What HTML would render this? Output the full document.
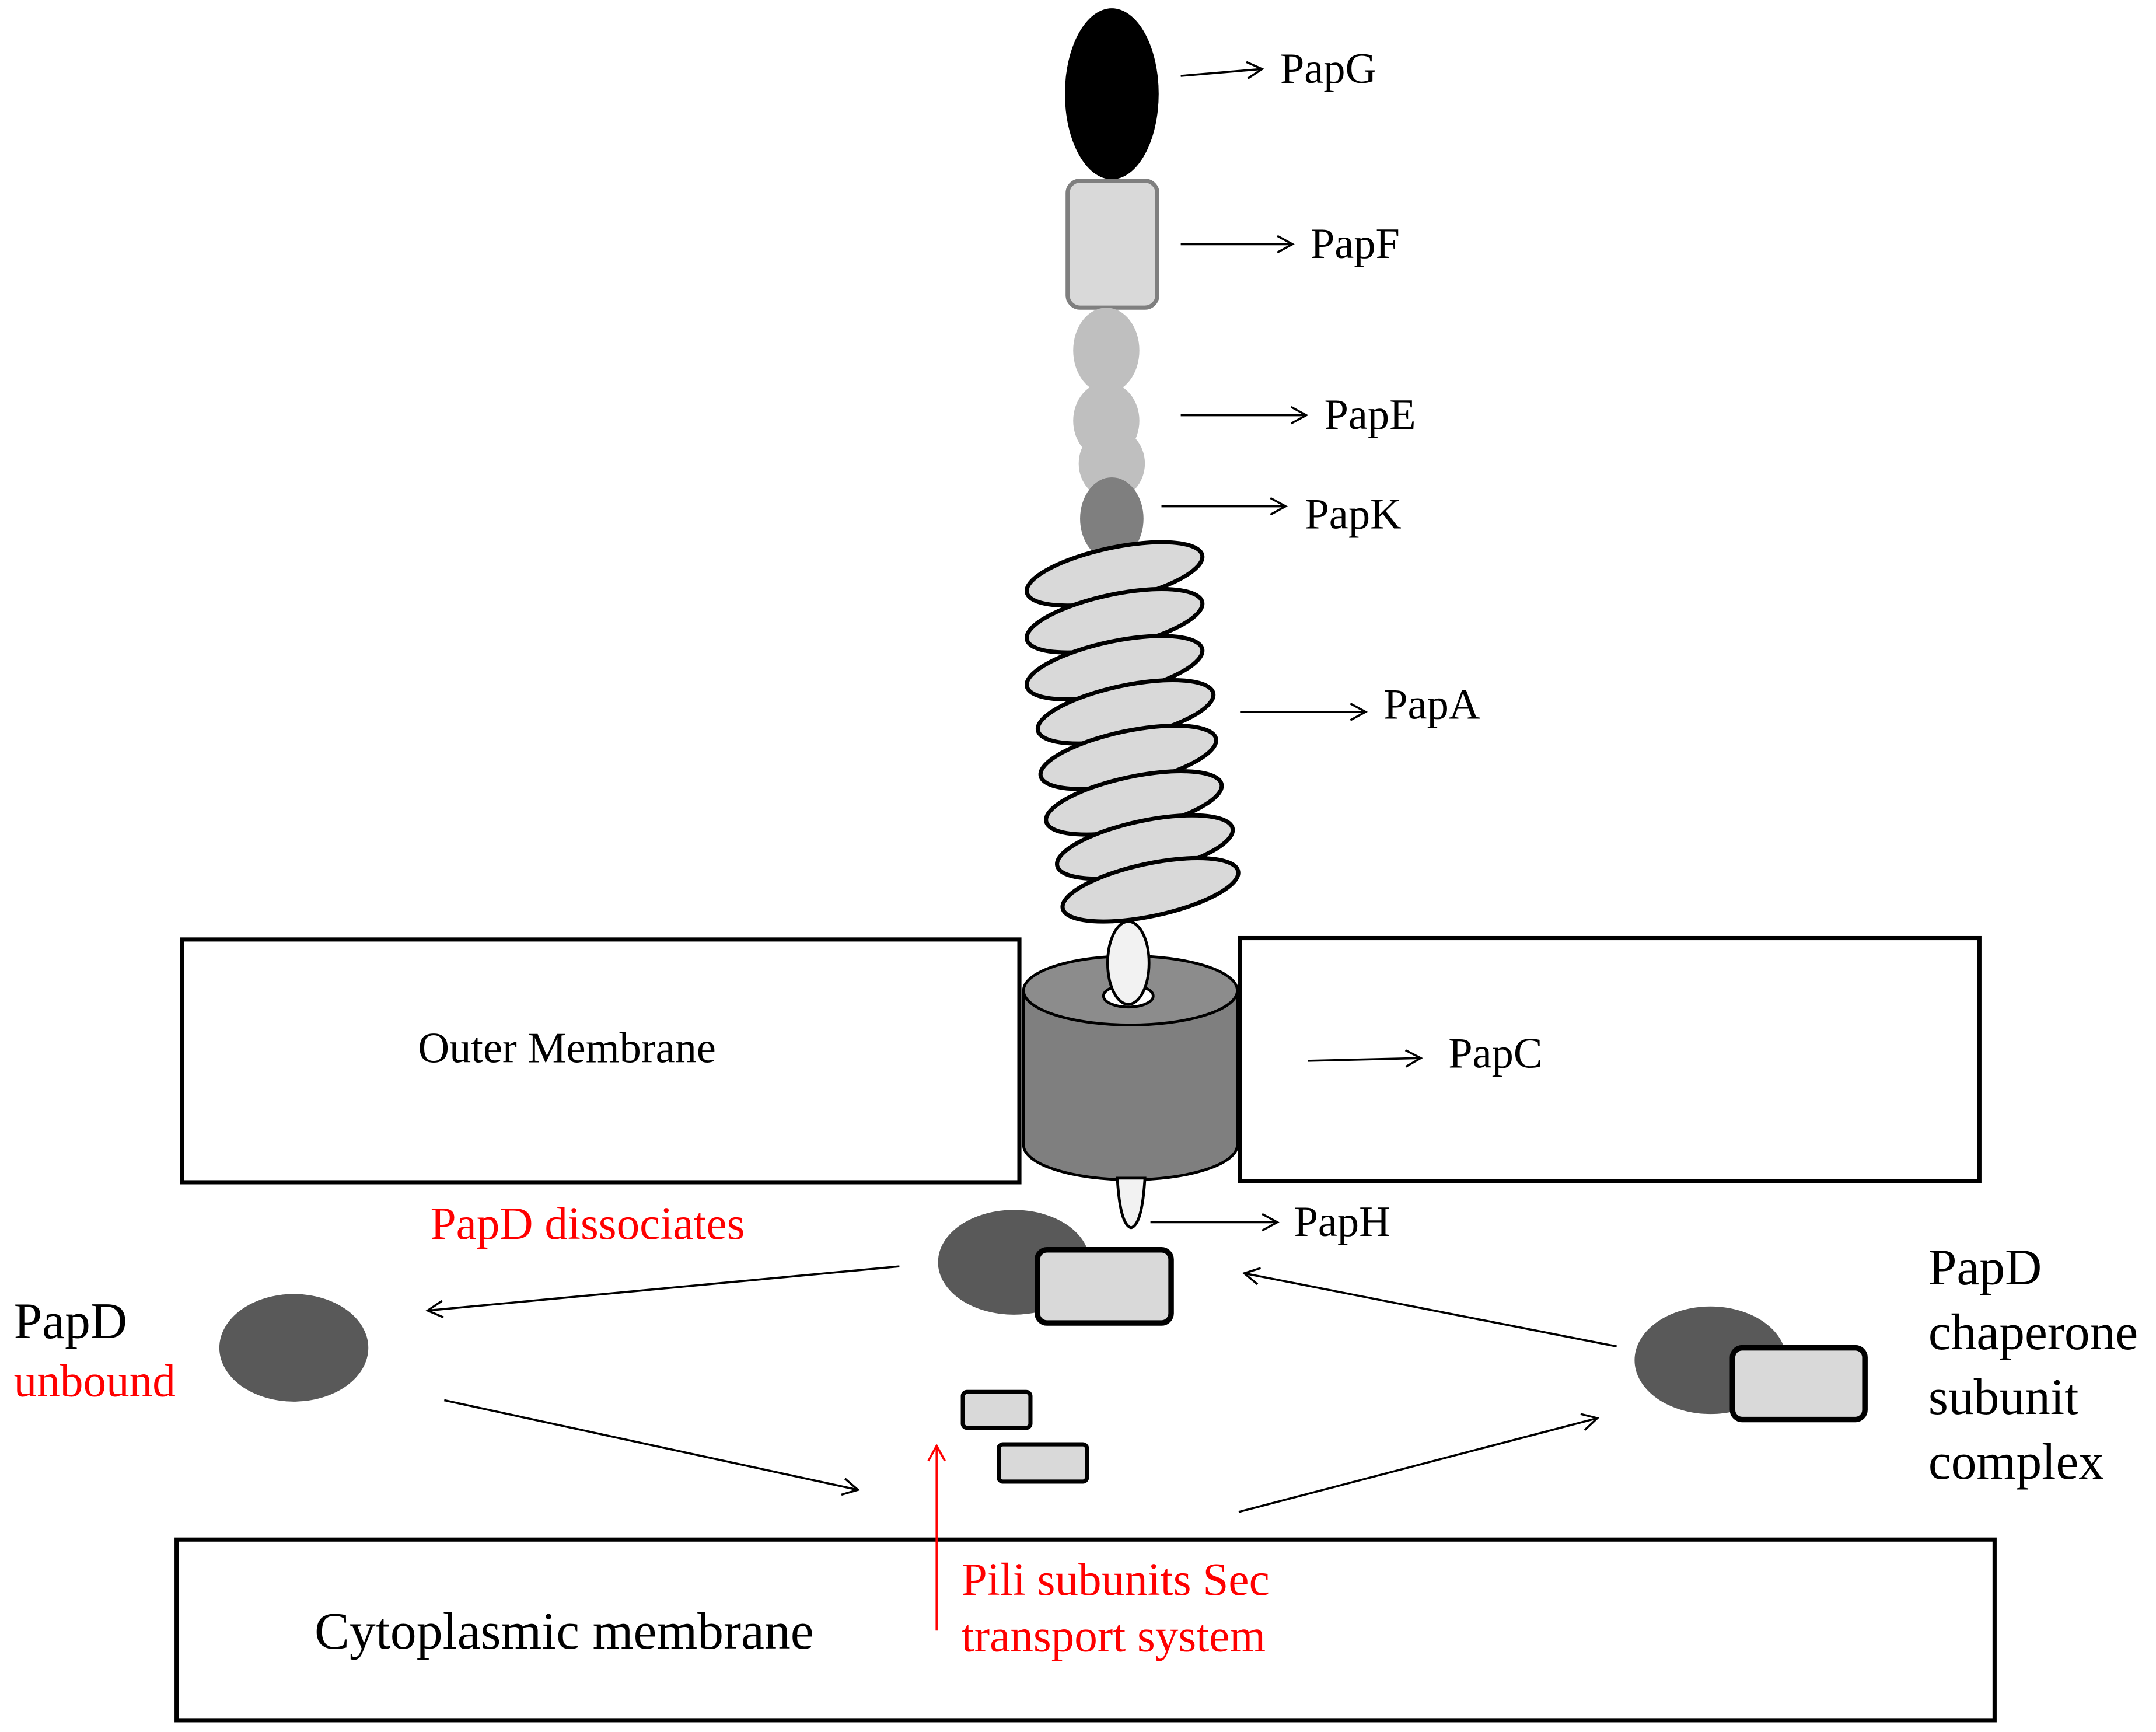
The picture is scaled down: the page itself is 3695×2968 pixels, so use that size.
<!DOCTYPE html>
<html><head><meta charset="utf-8"><style>html,body{margin:0;padding:0;background:#fff}svg{display:block}</style></head>
<body>
<svg width="3695" height="2968" viewBox="0 0 1563 1255.5" xmlns="http://www.w3.org/2000/svg" font-family="Liberation Serif, serif">
<defs>
<marker id="a" markerWidth="14" markerHeight="14" refX="12" refY="7" orient="auto" markerUnits="userSpaceOnUse">
<path d="M1,1 L12,7 L1,13" fill="none" stroke="#000" stroke-width="1.5"/></marker>
<marker id="r" markerWidth="14" markerHeight="14" refX="12" refY="7" orient="auto" markerUnits="userSpaceOnUse">
<path d="M1,1 L12,7 L1,13" fill="none" stroke="#f00" stroke-width="1.5"/></marker>
</defs>
<rect width="1563" height="1256" fill="#fff"/>
<ellipse cx="806" cy="68" rx="34" ry="62" fill="#000"/>
<rect x="774" y="131" width="65" height="92" rx="9" fill="#d9d9d9" stroke="#7f7f7f" stroke-width="3"/>
<ellipse cx="802" cy="254" rx="24" ry="31" fill="#bfbfbf"/>
<ellipse cx="806" cy="336" rx="24" ry="26" fill="#bfbfbf"/>
<ellipse cx="802" cy="305" rx="24" ry="28" fill="#bfbfbf"/>
<ellipse cx="806" cy="376" rx="23" ry="30" fill="#7f7f7f"/>
<g fill="#d9d9d9" stroke="#000" stroke-width="3">
<ellipse cx="808" cy="416" rx="65" ry="19" transform="rotate(-12 808 416)"/>
<ellipse cx="808" cy="450" rx="65" ry="19" transform="rotate(-12 808 450)"/>
<ellipse cx="808" cy="484" rx="65" ry="19" transform="rotate(-12 808 484)"/>
<ellipse cx="816" cy="516" rx="65" ry="19" transform="rotate(-12 816 516)"/>
<ellipse cx="818" cy="549" rx="65" ry="19" transform="rotate(-12 818 549)"/>
<ellipse cx="822" cy="582" rx="65" ry="19" transform="rotate(-12 822 582)"/>
<ellipse cx="830" cy="614" rx="65" ry="19" transform="rotate(-12 830 614)"/>
<ellipse cx="834" cy="645" rx="65" ry="19" transform="rotate(-12 834 645)"/>
</g>
<rect x="132" y="681" width="607" height="176" fill="#fff" stroke="#000" stroke-width="3"/>
<rect x="899" y="680" width="536" height="176" fill="#fff" stroke="#000" stroke-width="3"/>
<path d="M742,718 L742,830 A77,25 0 0 0 897,830 L897,718 Z" fill="#7f7f7f" stroke="#000" stroke-width="2"/>
<ellipse cx="819.5" cy="718" rx="77.5" ry="25" fill="#8c8c8c" stroke="#000" stroke-width="2"/>
<ellipse cx="818" cy="722" rx="18" ry="8" fill="#fff" stroke="#000" stroke-width="2"/>
<ellipse cx="818" cy="698" rx="15" ry="30" fill="#f2f2f2" stroke="#000" stroke-width="2"/>
<path d="M810,854 Q812,888 820,890 Q828,888 830,854 Z" fill="#f2f2f2" stroke="#000" stroke-width="2"/>
<ellipse cx="735" cy="915" rx="55" ry="38" fill="#595959"/>
<rect x="752" y="906" width="97" height="53" rx="7" fill="#d9d9d9" stroke="#000" stroke-width="4"/>
<ellipse cx="213" cy="977" rx="54" ry="39" fill="#595959"/>
<ellipse cx="1240" cy="986" rx="55" ry="39" fill="#595959"/>
<rect x="1256" y="977" width="96" height="52" rx="7" fill="#d9d9d9" stroke="#000" stroke-width="4"/>
<rect x="698" y="1009" width="49" height="26" rx="3" fill="#d9d9d9" stroke="#000" stroke-width="3"/>
<rect x="724" y="1047" width="64" height="27" rx="3" fill="#d9d9d9" stroke="#000" stroke-width="3"/>
<rect x="128" y="1116" width="1318" height="131" fill="#fff" stroke="#000" stroke-width="3"/>
<g stroke="#000" stroke-width="1.5" fill="none" marker-end="url(#a)">
<line x1="856" y1="55" x2="915" y2="50"/>
<line x1="856" y1="177" x2="937" y2="177"/>
<line x1="856" y1="301" x2="947" y2="301"/>
<line x1="842" y1="367" x2="932" y2="367"/>
<line x1="899" y1="516" x2="990" y2="516"/>
<line x1="948" y1="769" x2="1030" y2="767"/>
<line x1="834" y1="886" x2="926" y2="886"/>
<line x1="652" y1="918" x2="310" y2="950"/>
<line x1="322" y1="1015" x2="622" y2="1080"/>
<line x1="898" y1="1096" x2="1158" y2="1028"/>
<line x1="1172" y1="976" x2="902" y2="923"/>
</g>
<line x1="679" y1="1182" x2="679" y2="1048" stroke="#f00" stroke-width="1.5" marker-end="url(#r)"/>
<g font-size="31.5" fill="#000">
<text x="928" y="60">PapG</text>
<text x="950" y="187">PapF</text>
<text x="960" y="311">PapE</text>
<text x="946" y="383">PapK</text>
<text x="1003" y="521">PapA</text>
<text x="1050" y="774">PapC</text>
<text x="938" y="896">PapH</text>
<text x="303" y="770">Outer Membrane</text>
<text x="228" y="1195" font-size="38">Cytoplasmic membrane</text>
<text x="10" y="970" font-size="37">PapD</text>
<text x="1398" y="931" font-size="37">PapD</text>
<text x="1398" y="978" font-size="37">chaperone</text>
<text x="1398" y="1025" font-size="37">subunit</text>
<text x="1398" y="1072" font-size="37">complex</text>
</g>
<g font-size="33.5" fill="#f00">
<text x="312" y="898">PapD dissociates</text>
<text x="10" y="1012">unbound</text>
<text x="697" y="1156">Pili subunits Sec</text>
<text x="697" y="1197">transport system</text>
</g>
</svg>
</body></html>
